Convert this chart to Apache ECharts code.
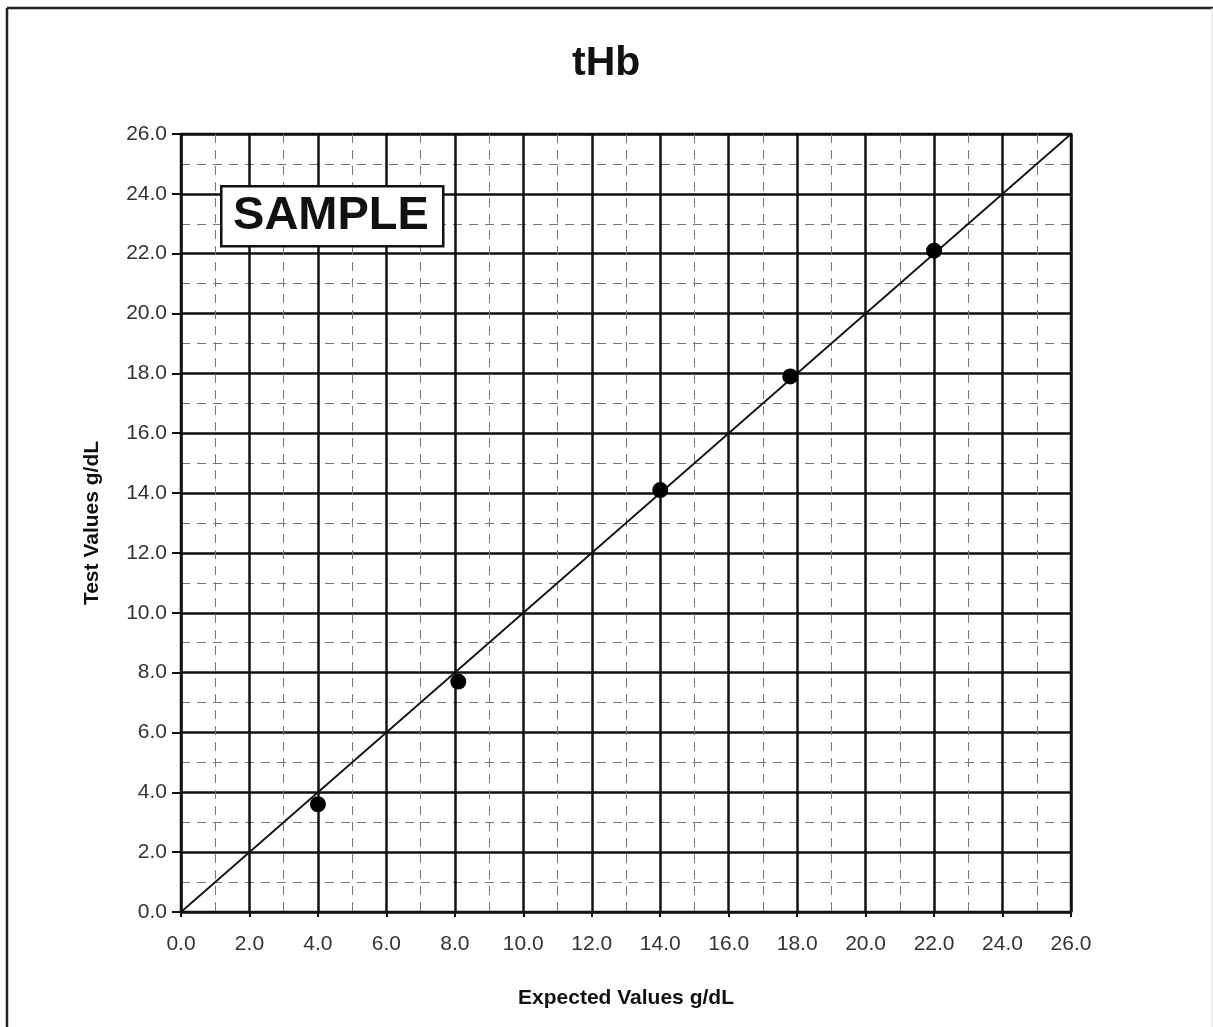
<!DOCTYPE html>
<html>
<head>
<meta charset="utf-8">
<script src="https://cdn.jsdelivr.net/npm/echarts@6/dist/echarts.min.js"></script>
<style>
html,body{margin:0;padding:0;background:#fff;}
#chart{width:1213px;height:1027px;}
</style>
</head>
<body>
<div id="chart"></div>
<script>
const titleText = 'tHb';
const xAxisName = 'Expected Values g/dL';
const yAxisName = 'Test Values g/dL';
const axisMin = 0;
const axisMax = 26;
const axisStep = 2;
const expectedValues = [4.0, 8.1, 14.0, 17.8, 22.0];
const testValues = [3.6, 7.7, 14.1, 17.9, 22.1];
const identityLine = [[0, 0], [26, 26]];
const stampText = 'SAMPLE';

const chart = echarts.init(document.getElementById('chart'));
const font = '"Liberation Sans", Arial, Helvetica, sans-serif';

function axisCommon(isX) {
  return {
    type: 'value',
    min: axisMin,
    max: axisMax,
    interval: axisStep,
    nameLocation: 'middle',
    nameTextStyle: { fontFamily: font, fontWeight: 'bold', fontSize: 21, color: '#111' },
    axisLine: { show: true, onZero: false, lineStyle: { color: '#111', width: 2 } },
    axisTick: { show: true, inside: false, length: isX ? 5 : 9, lineStyle: { color: '#111', width: 2 } },
    axisLabel: {
      fontFamily: font, fontSize: 21, color: '#333',
      margin: isX ? 22 : 14,
      formatter: v => v.toFixed(1)
    },
    splitLine: { show: true, lineStyle: { color: '#111', width: 2.5 } },
    minorTick: { show: false, splitNumber: 2 },
    minorSplitLine: { show: true, lineStyle: { color: '#777', width: 1, type: [9, 7] } }
  };
}

const xAxis = Object.assign(axisCommon(true), { name: xAxisName, nameGap: 76 });
const yAxis = Object.assign(axisCommon(false), { name: yAxisName, nameGap: 78 });

chart.setOption({
  backgroundColor: '#fff',
  animation: false,
  title: {
    text: titleText,
    left: 567,
    top: 38,
    textStyle: { fontFamily: font, fontWeight: 'bold', fontSize: 41, color: '#111' }
  },
  grid: { left: 181, right: 142, top: 134, bottom: 115, show: true, borderColor: '#111', borderWidth: 2.5, backgroundColor: 'transparent' },
  xAxis: xAxis,
  yAxis: yAxis,
  graphic: [
    { type: 'line', shape: { x1: 7, y1: 8, x2: 7, y2: 1027 }, style: { stroke: '#222', lineWidth: 2.5 }, silent: true },
    { type: 'line', shape: { x1: 7, y1: 8, x2: 1213, y2: 8 }, style: { stroke: '#222', lineWidth: 2.5 }, silent: true },
    { type: 'line', shape: { x1: 1212, y1: 8, x2: 1212, y2: 1027 }, style: { stroke: '#ddd', lineWidth: 1 }, silent: true },
    { type: 'rect', left: 220, top: 185, z: 100, shape: { x: 0, y: 0, width: 222, height: 60 }, style: { fill: '#fff', stroke: '#111', lineWidth: 2.5 } },
    { type: 'text', x: 331, y: 216, z: 101, style: { text: stampText, fontFamily: font, fontWeight: 'bold', fontSize: 47, fill: '#111', align: 'center', verticalAlign: 'middle' } }
  ],
  series: [
    {
      type: 'line',
      data: identityLine,
      showSymbol: false,
      symbol: 'none',
      lineStyle: { color: '#111', width: 1.8 },
      z: 3
    },
    {
      type: 'scatter',
      data: expectedValues.map((x, i) => [x, testValues[i]]),
      symbol: 'circle',
      symbolSize: 16,
      itemStyle: { color: '#000', opacity: 1 },
      z: 4
    }
  ]
});
</script>
</body>
</html>
